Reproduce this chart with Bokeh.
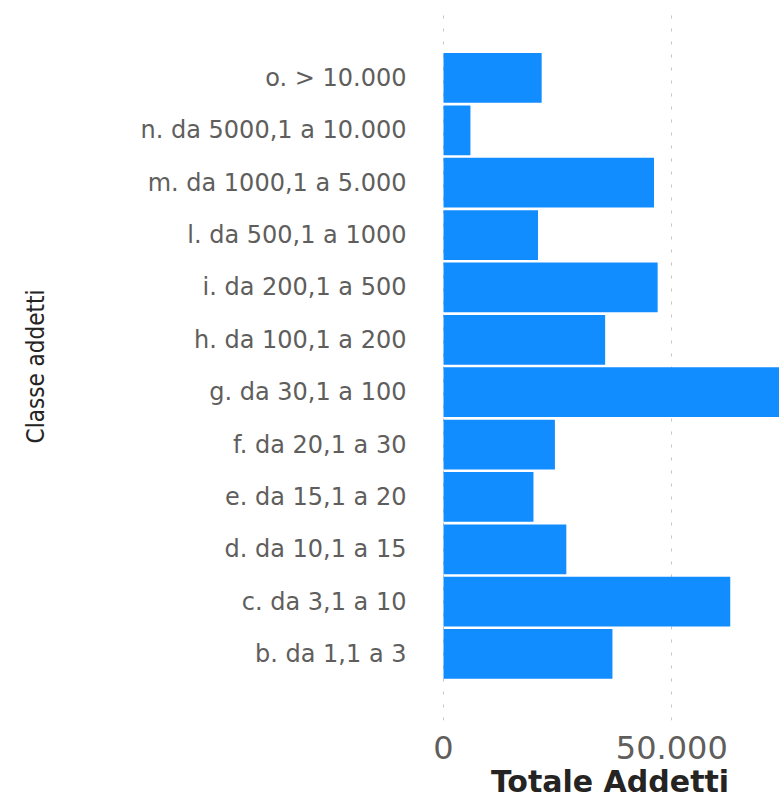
from bokeh.plotting import figure
from bokeh.models import Range1d, FixedTicker
from bokeh.embed import file_html
from bokeh.resources import INLINE

categories = ["b. da 1,1 a 3", "c. da 3,1 a 10", "d. da 10,1 a 15", "e. da 15,1 a 20",
              "f. da 20,1 a 30", "g. da 30,1 a 100", "h. da 100,1 a 200", "i. da 200,1 a 500",
              "l. da 500,1 a 1000", "m. da 1000,1 a 5.000", "n. da 5000,1 a 10.000", "o. > 10.000"]
values = [37000, 62800, 26900, 19700, 24400, 80000, 35400, 46900, 20700, 46100, 5900, 21500]
x_ticks = [0, 50000]
x_tick_labels = ["0", "50.000"]
x_title = "Totale Addetti"
y_title = "Classe addetti"

idx = list(range(len(categories)))
x0, x1 = -657, 73587
y0, y1 = -1.27, 12.25

p = figure(width=779, height=801, output_backend="svg", toolbar_location=None,
           x_range=Range1d(x0, x1), y_range=Range1d(y0, y1),
           min_border_left=440, min_border_right=0, min_border_top=12, min_border_bottom=81)
p.outline_line_color = None
p.background_fill_color = "white"

p.hbar(y=idx, right=values, left=0, height=0.95, color="#118DFF", line_color=None)

# y axis
p.yaxis.ticker = FixedTicker(ticks=idx)
p.yaxis.major_label_overrides = {i: c for i, c in zip(idx, categories)}
p.yaxis.axis_line_color = None
p.yaxis.major_tick_line_color = None
p.yaxis.minor_tick_line_color = None
p.yaxis.major_tick_out = 0
p.yaxis.major_label_standoff = 34
p.yaxis.major_label_text_font = "DejaVu Sans"
p.yaxis.major_label_text_font_size = "24px"
p.yaxis.major_label_text_color = "#605E5C"
p.yaxis.axis_label = y_title
p.yaxis.axis_label_text_font = "DejaVu Sans Condensed"
p.yaxis.axis_label_text_font_size = "24px"
p.yaxis.axis_label_text_font_style = "normal"
p.yaxis.axis_label_text_color = "#252423"
p.yaxis.axis_label_standoff = 88

# x axis
p.xaxis.ticker = FixedTicker(ticks=x_ticks)
p.xaxis.major_label_overrides = {t: l for t, l in zip(x_ticks, x_tick_labels)}
p.xaxis.axis_line_color = None
p.xaxis.major_tick_line_color = None
p.xaxis.minor_tick_line_color = None
p.xaxis.major_tick_out = 0
p.xaxis.major_label_standoff = 15
p.xaxis.major_label_text_font = "DejaVu Sans"
p.xaxis.major_label_text_font_size = "32px"
p.xaxis.major_label_text_color = "#605E5C"
p.xaxis.axis_label = x_title
p.xaxis.axis_label_text_font = "DejaVu Sans"
p.xaxis.axis_label_text_font_size = "30px"
p.xaxis.axis_label_text_font_style = "bold"
p.xaxis.axis_label_text_color = "#252423"
p.xaxis.axis_label_standoff = 2

p.ygrid.grid_line_color = None
p.xgrid.grid_line_color = "#C8C6C4"
p.xgrid.grid_line_dash = "3 10"
p.xgrid.grid_line_width = 1

open("out.html", "w").write(file_html(p, INLINE))
